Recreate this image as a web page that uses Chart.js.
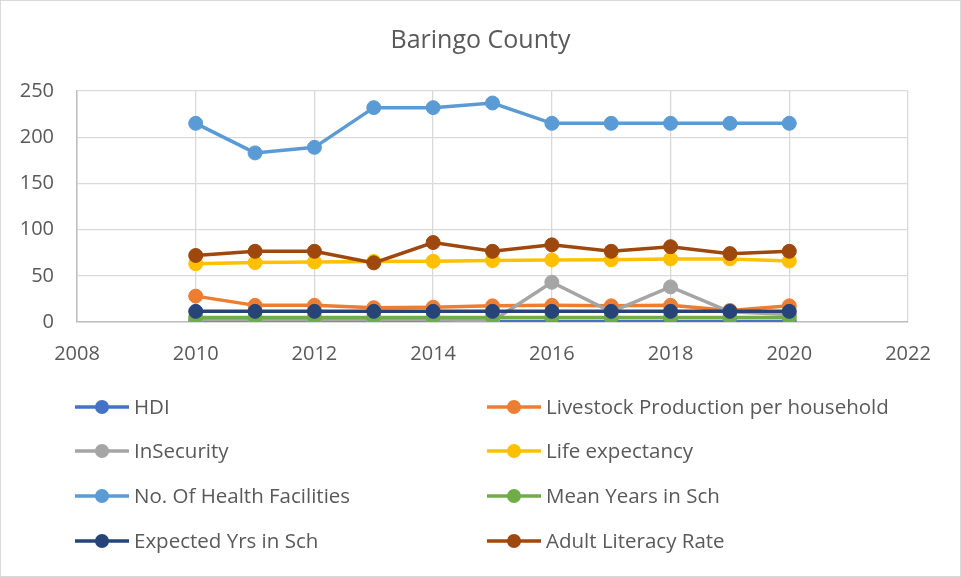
<!DOCTYPE html>
<html>
<head>
<meta charset="utf-8">
<title>Baringo County</title>
<script src="https://cdn.jsdelivr.net/npm/chart.js@4.4.1/dist/chart.umd.min.js"></script>
<style>
	html, body { margin: 0; padding: 0; background: #fff; }
	.chart-box { width: 961px; height: 577px; box-sizing: border-box; border: 1px solid #d9d9d9; }
</style>
</head>
<body>
<div class="chart-box"><canvas id="lineChart"></canvas></div>
<script>
// values
var years = [2010, 2011, 2012, 2013, 2014, 2015, 2016, 2017, 2018, 2019, 2020];
var hdi = [0.5, 0.5, 0.5, 0.5, 0.5, 0.5, 0.5, 0.5, 0.5, 0.5, 0.5];
var livestock = [28, 18, 18, 15.5, 16, 17.5, 18, 17.5, 18, 12.5, 17.5];
var insecurity = [2.5, 2.5, 2.5, 2.5, 2.5, 1, 43, 11, 38, 11, 8];
var lifeExpectancy = [63, 64.3, 65, 65.5, 65.8, 66.5, 67.2, 67.3, 68.3, 68.3, 66];
var healthFacilities = [215, 183, 189, 232, 232, 237, 215, 215, 215, 215, 215];
var meanYears = [5, 5, 5, 5, 5, 5, 5, 5, 5, 5, 5];
var expectedYears = [11.5, 11.5, 11.5, 11.5, 11.5, 11.5, 11.5, 11.5, 11.5, 11.5, 11.5];
var adultLiteracy = [72, 76.5, 76.5, 64, 86, 76.5, 83.5, 76.5, 81.5, 74, 76.5];

var seriesNames = ['HDI', 'Livestock Production per household', 'InSecurity', 'Life expectancy',
	'No. Of Health Facilities', 'Mean Years in Sch', 'Expected Yrs in Sch', 'Adult Literacy Rate'];
var seriesValues = [hdi, livestock, insecurity, lifeExpectancy, healthFacilities, meanYears, expectedYears, adultLiteracy];
var seriesColors = ['#4472c4', '#ed7d31', '#a5a5a5', '#ffc000', '#5b9bd5', '#70ad47', '#264478', '#9e480e'];

var xTicks = [2008, 2010, 2012, 2014, 2016, 2018, 2020, 2022];
var yTicks = [0, 50, 100, 150, 200, 250];

(function(window, document, undefined) {
	"use strict";

	var font = "'Open Sans', 'Liberation Sans', sans-serif";
	var textColor = '#595959';

	var datasets = seriesNames.map(function(name, i) {
		return {
			label: name,
			data: years.map(function(yr, j) { return { x: yr, y: seriesValues[i][j] }; }),
			borderColor: seriesColors[i],
			backgroundColor: seriesColors[i],
			pointBackgroundColor: seriesColors[i],
			pointBorderColor: seriesColors[i],
			borderWidth: 3.5,
			pointRadius: 7,
			pointBorderWidth: 1,
			tension: 0,
			// excel paints the last series on top
			order: seriesNames.length - 1 - i
		};
	});

	// two column legend like the excel one
	var gridLegend = {
		id: 'gridLegend',
		afterDraw: function(chart) {
			var ctx = chart.ctx;
			var cols = [74, 486];
			var rows = [406, 450, 495, 540];
			ctx.save();
			ctx.font = '20.5px ' + font;
			ctx.textBaseline = 'middle';
			ctx.textAlign = 'left';
			chart.data.datasets.forEach(function(ds, i) {
				var x = cols[i % 2], y = rows[Math.floor(i / 2)];
				ctx.strokeStyle = ds.borderColor;
				ctx.lineWidth = 3.5;
				ctx.beginPath();
				ctx.moveTo(x, y);
				ctx.lineTo(x + 54, y);
				ctx.stroke();
				ctx.fillStyle = ds.borderColor;
				ctx.beginPath();
				ctx.arc(x + 27, y, 7, 0, Math.PI * 2);
				ctx.fill();
				ctx.fillStyle = textColor;
				ctx.fillText(ds.label, x + 59, y + 1);
			});
			ctx.restore();
		}
	};

	var ctx = document.getElementById('lineChart').getContext('2d');
	var myChart = new Chart(ctx, {
		type: 'line',
		data: { datasets: datasets },
		options: {
			responsive: true,
			maintainAspectRatio: false,
			animation: false,
			layout: { padding: { left: 0, right: 0, top: 0, bottom: 214 } },
			plugins: {
				legend: { display: false },
				tooltip: { enabled: false },
				title: {
					display: true,
					text: 'Baringo County',
					color: textColor,
					font: { family: font, size: 25, weight: 'normal' },
					padding: { top: 25, bottom: 35 }
				}
			},
			scales: {
				x: {
					type: 'linear',
					min: xTicks[0],
					max: xTicks[xTicks.length - 1],
					afterBuildTicks: function(scale) {
						scale.ticks = xTicks.map(function(v) { return { value: v }; });
					},
					afterFit: function(scale) { scale.height = 40; },
					grid: { color: '#d9d9d9', lineWidth: 1.3, drawTicks: false },
					border: { color: '#bfbfbf', width: 1.5 },
					ticks: {
						color: textColor,
						font: { family: font, size: 20 },
						padding: 20,
						callback: function(v) { return String(v); }
					}
				},
				y: {
					min: yTicks[0],
					max: yTicks[yTicks.length - 1],
					afterBuildTicks: function(scale) {
						scale.ticks = yTicks.map(function(v) { return { value: v }; });
					},
					afterFit: function(scale) { scale.width = 76; },
					grid: { color: '#d9d9d9', lineWidth: 1.3, drawTicks: false },
					border: { color: '#bfbfbf', width: 1.5 },
					ticks: {
						color: textColor,
						font: { family: font, size: 20 },
						padding: 23
					}
				},
				// empty right side axis, only keeps the plot off the right edge
				yRight: {
					position: 'right',
					min: yTicks[0],
					max: yTicks[yTicks.length - 1],
					grid: { display: false, drawTicks: false },
					border: { display: false },
					ticks: { display: false },
					afterFit: function(scale) { scale.width = 52; }
				}
			}
		},
		plugins: [gridLegend]
	});

})(window, document);
</script>
</body>
</html>
